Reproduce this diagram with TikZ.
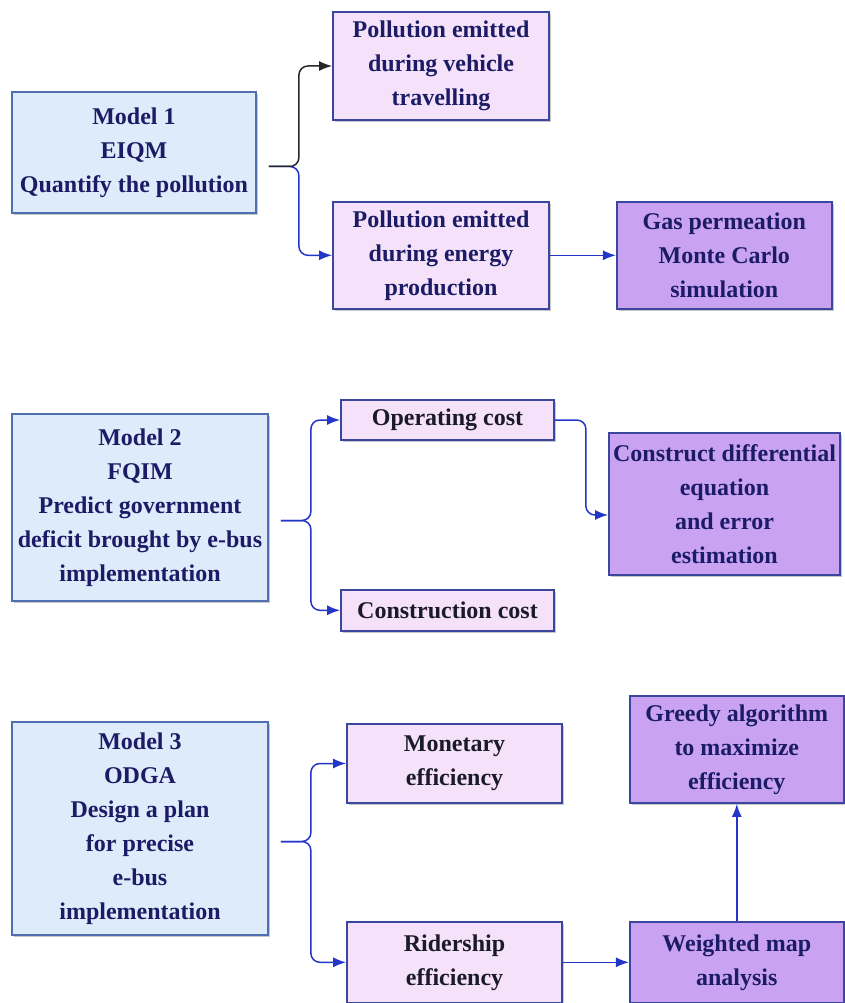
\documentclass[tikz,border=0pt]{standalone}
\usepackage{fontspec}
\setmainfont{Liberation Serif}
\usetikzlibrary{arrows.meta,positioning,shadows}
\definecolor{modelfill}{HTML}{DDEBFA}
\definecolor{modeldraw}{HTML}{4F6FB0}
\definecolor{pinkfill}{HTML}{F5E2FA}
\definecolor{purplefill}{HTML}{C9A3F2}
\definecolor{boxdraw}{HTML}{3B469E}
\definecolor{navyink}{HTML}{1B1B66}
\definecolor{darkink}{HTML}{1A1A28}
\definecolor{flowblue}{HTML}{2436C8}
\tikzset{
  basebox/.style   = {draw=boxdraw, line width=1.8pt, align=center, inner sep=3pt,
                      text=navyink, font=\fontsize{24}{34}\selectfont\bfseries,
                      drop shadow={shadow xshift=2pt, shadow yshift=-2pt, fill=black, opacity=0.22}},
  modelbox/.style  = {basebox, draw=modeldraw, fill=modelfill},
  pinkbox/.style   = {basebox, fill=pinkfill},
  methodbox/.style = {basebox, fill=purplefill},
  flow/.style      = {-{Latex[length=13pt,width=10pt]}, draw=flowblue, line width=1.5pt, rounded corners=9pt},
  flowblack/.style = {flow, draw=black!85},
}
\begin{document}
\begin{tikzpicture}[x=1pt,y=-1pt]
  \useasboundingbox[fill=white] (0,0) rectangle (844,1003);
  % Model 1
  \node[modelbox,minimum width=244pt,minimum height=121pt] (m1) at (134,152.5)
       {Model 1\\EIQM\\Quantify the pollution};
  \node[pinkbox,minimum width=216pt,minimum height=108pt] (pt) at (441,66)
       {Pollution emitted\\during vehicle\\travelling};
  \node[pinkbox,below=80pt of pt,minimum width=216pt,minimum height=107pt] (pe)
       {Pollution emitted\\during energy\\production};
  \node[methodbox,right=66pt of pe,minimum width=215pt,minimum height=107pt] (gas)
       {Gas permeation\\Monte Carlo\\simulation};
  \coordinate (m1o) at ([xshift=12pt,yshift=-14pt]m1.east);
  \draw[flow] (m1o) -- ++(30,0) |- (pe.west);
  \draw[flowblack] (m1o) -- ++(30,0) |- (pt.west);
  \draw[flow] (pe) -- (gas);
  % Model 2
  \node[modelbox,minimum width=256pt,minimum height=187pt] (m2) at (140,507.5)
       {Model 2\\FQIM\\Predict government\\deficit brought by e-bus\\implementation};
  \node[pinkbox,text=darkink,minimum width=213pt,minimum height=40pt] (op) at (447.5,420)
       {Operating cost};
  \node[pinkbox,text=darkink,below=148pt of op,minimum width=213pt,minimum height=41pt] (cc)
       {Construction cost};
  \node[methodbox,minimum width=231pt,minimum height=142pt] (de) at (724.5,504)
       {Construct differential\\equation\\and error\\estimation};
  \coordinate (m2o) at ([xshift=12pt,yshift=-13pt]m2.east);
  \draw[flow] (m2o) -- ++(30,0) |- (op.west);
  \draw[flow] (m2o) -- ++(30,0) |- (cc.west);
  \draw[flow] (op.east) -- ++(31,0) |- ([yshift=-11pt]de.west);
  % Model 3
  \node[modelbox,minimum width=256pt,minimum height=213pt] (m3) at (140,828.5)
       {Model 3\\ODGA\\Design a plan\\for precise\\e-bus\\implementation};
  \node[pinkbox,text=darkink,minimum width=215pt,minimum height=79pt] (mon) at (454.5,763.5)
       {Monetary\\efficiency};
  \node[pinkbox,text=darkink,below=117pt of mon,minimum width=215pt,minimum height=81pt] (rid)
       {Ridership\\efficiency};
  \node[methodbox,right=66pt of rid,minimum width=214pt,minimum height=81pt] (wm)
       {Weighted map\\analysis};
  \node[methodbox,above=117pt of wm,minimum width=214pt,minimum height=107pt] (gr)
       {Greedy algorithm\\to maximize\\efficiency};
  \coordinate (m3o) at ([xshift=12pt,yshift=-13pt]m3.east);
  \draw[flow] (m3o) -- ++(30,0) |- (mon.west);
  \draw[flow] (m3o) -- ++(30,0) |- (rid.west);
  \draw[flow] (rid) -- (wm);
  \draw[flow] (wm) -- (gr);
\end{tikzpicture}
\end{document}
